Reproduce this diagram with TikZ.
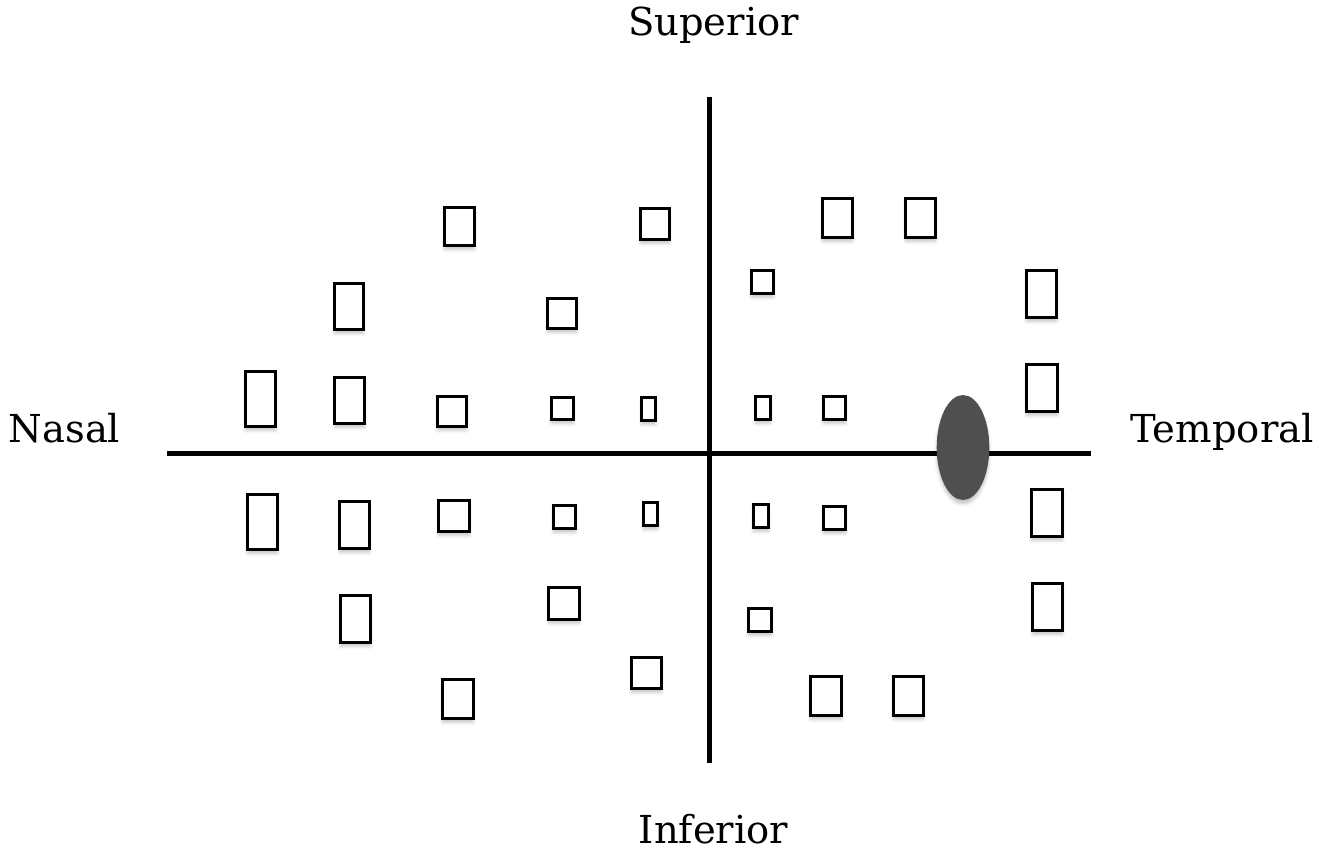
\documentclass[tikz,border=0pt]{standalone}
\usepackage{fontspec}
\setmainfont{DejaVu Serif}
\usetikzlibrary{shapes.geometric,shadows.blur}
\definecolor{discgray}{HTML}{4F4F4F}
\tikzset{
  box/.style={draw=black, line width=3pt, inner sep=0pt, fill=white,
    blur shadow={shadow xshift=0pt, shadow yshift=-4pt, shadow blur radius=3pt, shadow opacity=22}},
  axis/.style={line width=5pt, black},
  disc/.style={ellipse, fill=discgray, draw=none, inner sep=0pt,
    blur shadow={shadow xshift=0pt, shadow yshift=-4pt, shadow blur radius=3pt, shadow opacity=22}},
  lbl/.style={font=\fontsize{38.5}{46}\selectfont, anchor=base, inner sep=0pt}
}
\begin{document}
\begin{tikzpicture}[x=1pt, y=-1pt]
\useasboundingbox (0,0) rectangle (1338,850);
% axes
\coordinate (hl) at (167,453);
\coordinate (hr) at (1091,453);
\coordinate (vt) at (709,97);
\coordinate (vb) at (709,763);
\draw[axis] (hl) -- (hr);
\draw[axis] (vt) -- (vb);
% optic disc on the temporal axis
\node[disc, minimum width=52.6pt, minimum height=105pt] (disc) at (963,447.5) {};
% test points: index / left / top / right / bottom (outer edges)
\foreach \i/\a/\b/\c/\d in {
  1/443/206/476/247, 2/639/207/671/241, 3/333/282/365/331, 4/546/297/578/330,
  5/244/370/277/428, 6/333/376/366/425, 7/436/395/468/428, 8/550/396/575/421,
  9/640/396/657/422, 10/821/197/854/239, 11/904/197/937/239, 12/750/269/775/295,
  13/1025/269/1058/319, 14/754/395/772/421, 15/822/395/847/421, 16/1025/363/1059/413,
  17/246/493/279/551, 18/338/500/371/550, 19/437/499/471/533, 20/552/504/577/530,
  21/642/501/659/527, 22/339/594/372/644, 23/547/586/581/621, 24/441/678/475/720,
  25/630/656/663/690, 26/752/503/770/529, 27/822/505/847/531, 28/1030/488/1064/538,
  29/1031/582/1064/632, 30/747/607/773/633, 31/809/675/843/717, 32/892/675/925/717}
{
  \node[box, minimum width={\c-\a-3}, minimum height={\d-\b-3}] (r\i)
    at ({(\a+\c)/2},{(\b+\d)/2}) {};
}
% direction labels
\node[lbl] (sup) at (713.5,36) {Superior};
\node[lbl] (inf) at (713.5,843) {Inferior};
\node[lbl] (nas) at (64.5,442) {Nasal};
\node[lbl] (tem) at (1222,442) {Temporal};
\end{tikzpicture}
\end{document}
